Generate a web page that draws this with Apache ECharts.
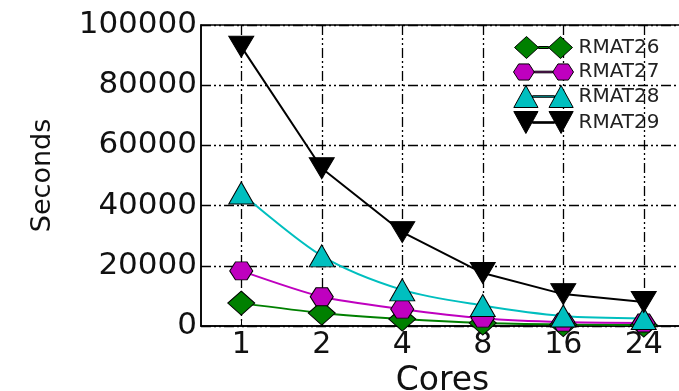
<!DOCTYPE html>
<html>
<head>
<meta charset="utf-8">
<script src="https://cdn.jsdelivr.net/npm/echarts@6/dist/echarts.min.js"></script>
<style>html,body{margin:0;padding:0;background:#fff;}#c{width:679px;height:391px;}</style>
</head>
<body>
<div id="c"></div>
<script>
var cores = ['1', '2', '4', '8', '16', '24'];
var rmat26 = [7600, 4300, 2300, 1000, 500, 300];
var rmat27 = [18300, 9700, 5600, 2600, 1300, 1000];
var rmat28 = [44200, 23300, 12000, 6800, 3300, 2500];
var rmat29 = [92800, 52400, 31200, 17600, 10600, 8000];
var yTicks = [0, 20000, 40000, 60000, 80000, 100000];

var hexPath = 'path://M0,5 L3,0 L9,0 L12,5 L9,10 L3,10 Z';
var downTri = 'path://M0,0 L10,0 L5,9 Z';
var legDiamond = 'path://M0,11 L12,0 L24,11 L12,22 Z M34,11 L46,0 L58,11 L46,22 Z M24,10 L34,10 L34,12 L24,12 Z';
var legHex = 'path://M3,11 L7.5,4 L16.5,4 L21,11 L16.5,18 L7.5,18 Z M37,11 L41.5,4 L50.5,4 L55,11 L50.5,18 L41.5,18 Z M21,10.3 L37,10.3 L37,11.7 L21,11.7 Z';
var legUp = 'path://M2,21 L13,1 L24,21 Z M34,21 L45,1 L56,21 Z M19,10.3 L39,10.3 L39,11.7 L19,11.7 Z';
var legDown = 'path://M2,1 L24,1 L13,21 Z M34,1 L56,1 L45,21 Z M19,10.3 L39,10.3 L39,11.7 L19,11.7 Z';

var gridDash = [10, 3, 2, 3, 2, 3];

function mk(name, data, color, symbol, size, smooth) {
  return {
    name: name, type: 'line', data: data, smooth: smooth,
    symbol: symbol, symbolSize: size,
    lineStyle: {color: color, width: 2},
    itemStyle: {color: color, borderColor: '#000', borderWidth: 1},
    emphasis: {disabled: true}
  };
}

var chart = echarts.init(document.getElementById('c'));
chart.setOption({
  animation: false,
  backgroundColor: '#fff',
  grid: {left: 201, right: -5, top: 25, bottom: 65, outerBoundsMode: 'none', containLabel: false,
         show: true, borderColor: '#000', borderWidth: 1.5, backgroundColor: 'transparent'},
  legend: {
    left: 508, top: 31, orient: 'vertical', itemWidth: 60, itemHeight: 22, itemGap: 3,
    textStyle: {fontFamily: 'DejaVu Sans', fontSize: 20, color: '#222'},
    itemStyle: {borderColor: '#000', borderWidth: 1},
    data: [
      {name: 'RMAT26', icon: legDiamond},
      {name: 'RMAT27', icon: legHex},
      {name: 'RMAT28', icon: legUp},
      {name: 'RMAT29', icon: legDown}
    ]
  },
  xAxis: {
    type: 'category', data: cores, boundaryGap: true,
    name: 'Cores', nameLocation: 'middle', nameGap: 27,
    nameTextStyle: {fontFamily: 'DejaVu Sans', fontSize: 33, color: '#111'},
    axisLine: {lineStyle: {color: '#000', width: 1.5}},
    axisTick: {show: true, alignWithLabel: true, inside: true, length: 5, lineStyle: {color: '#000'}},
    axisLabel: {fontFamily: 'DejaVu Sans', fontSize: 30, color: '#111', margin: 4},
    splitLine: {show: true, alignWithLabel: true, lineStyle: {color: '#000', width: 1.3, type: gridDash}}
  },
  yAxis: {
    type: 'value', min: yTicks[0], max: yTicks[yTicks.length - 1], interval: yTicks[1] - yTicks[0],
    name: 'Seconds', nameLocation: 'middle', nameGap: 145, nameRotate: 90,
    nameTextStyle: {fontFamily: 'DejaVu Sans', fontSize: 27, color: '#111'},
    axisLine: {show: true, lineStyle: {color: '#000', width: 1.5}},
    axisTick: {show: true, inside: true, length: 5, lineStyle: {color: '#000'}},
    axisLabel: {fontFamily: 'DejaVu Sans', fontSize: 31, color: '#111', margin: 4,
                formatter: function (v) { return String(v); }},
    splitLine: {show: true, lineStyle: {color: '#000', width: 1.3, type: gridDash}}
  },
  series: [
    mk('RMAT26', rmat26, '#008000', 'diamond', [27, 24], 0.25),
    mk('RMAT27', rmat27, '#bf00bf', hexPath, [23, 18], 0.25),
    mk('RMAT28', rmat28, '#00bfbf', 'triangle', [25, 22], 0.3),
    mk('RMAT29', rmat29, '#000000', downTri, [25, 21], false)
  ]
});
</script>
</body>
</html>
